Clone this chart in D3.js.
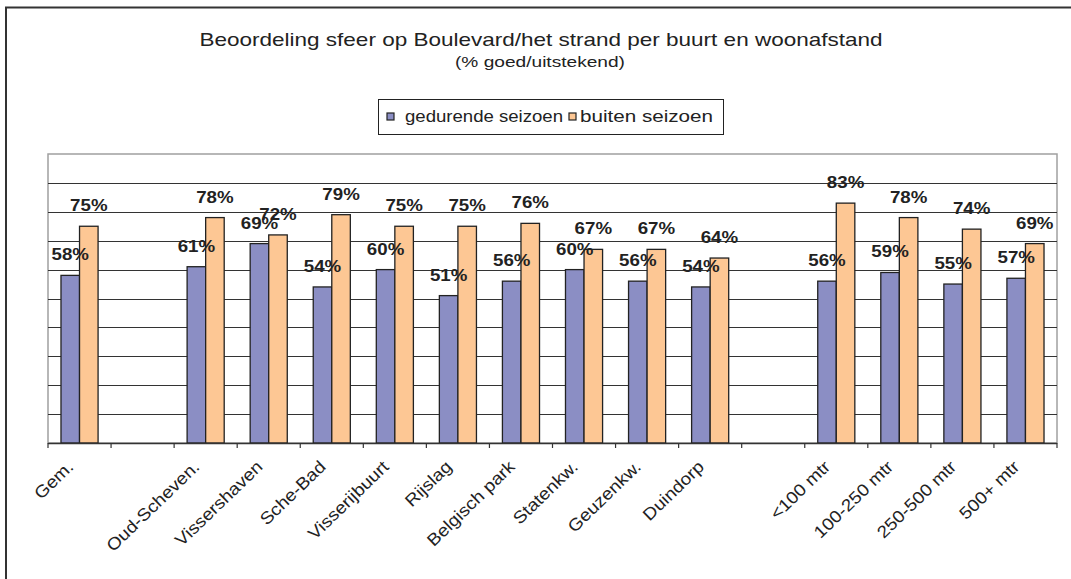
<!DOCTYPE html>
<html>
<head>
<meta charset="utf-8">
<script src="https://d3js.org/d3.v7.min.js"></script>
<style>
html, body { margin: 0; padding: 0; background: #fff; }
svg { display: block; font-family: 'Liberation Sans', Arial, sans-serif; }
</style>
</head>
<body>
<script>
// data
var categories = ["Gem.", "", "Oud-Scheven.", "Vissershaven", "Sche-Bad", "Visserijbuurt", "Rijslag",
  "Belgisch park", "Statenkw.", "Geuzenkw.", "Duindorp", " ", "<100 mtr", "100-250 mtr", "250-500 mtr", "500+ mtr"];
var gedurende = [58, null, 61, 69, 54, 60, 51, 56, 60, 56, 54, null, 56, 59, 55, 57];
var buiten    = [75, null, 78, 72, 79, 75, 75, 76, 67, 67, 64, null, 83, 78, 74, 69];
var seriesNames = ["gedurende seizoen", "buiten seizoen"];
var colors = ["#8B8EC4", "#FDC794"];
var gridTicks = [10, 20, 30, 40, 50, 60, 70, 80, 90];

var W = 1071, H = 579;
var plot = {left: 48, top: 154, right: 1057, bottom: 443};
var SX = 1.1; // slight horizontal stretch of the original

var svg = d3.select("body").append("svg").attr("width", W).attr("height", H);

// outer frame
svg.append("rect").attr("x", 6).attr("y", 7.5).attr("width", 1200).attr("height", 700)
  .attr("fill", "none").attr("stroke", "#333").attr("stroke-width", 2);

var x0 = d3.scaleBand().domain(d3.range(categories.length)).range([plot.left, plot.right]).padding(0);
var groupW = x0.bandwidth() * 2 / 3.4;
var x1 = d3.scaleBand().domain([0, 1]).range([0, groupW]);
var y = d3.scaleLinear().domain([0, 100]).range([plot.bottom, plot.top]);

// plot area border
svg.append("rect").attr("x", plot.left).attr("y", plot.top)
  .attr("width", plot.right - plot.left).attr("height", plot.bottom - plot.top)
  .attr("fill", "none").attr("stroke", "#a0a0a0").attr("stroke-width", 1.5);

// gridlines
svg.append("g").selectAll("line").data(gridTicks).enter().append("line")
  .attr("x1", plot.left).attr("x2", plot.right)
  .attr("y1", function(d) { return Math.round(y(d)) + 0.5; })
  .attr("y2", function(d) { return Math.round(y(d)) + 0.5; })
  .attr("stroke", "#333").attr("stroke-width", 1);

// bars
var rows = categories.map(function(c, i) { return {i: i, vals: [gedurende[i], buiten[i]]}; });
var groups = svg.append("g").selectAll("g").data(rows).enter().append("g")
  .attr("transform", function(d) { return "translate(" + (x0(d.i) + (x0.bandwidth() - groupW) / 2) + ",0)"; });

function pairs(d) {
  return d.vals.map(function(v, k) { return {k: k, v: v}; }).filter(function(e) { return e.v != null; });
}

groups.selectAll("rect").data(pairs)
  .enter().append("rect")
  .attr("x", function(d) { return x1(d.k); })
  .attr("y", function(d) { return y(d.v); })
  .attr("width", x1.bandwidth())
  .attr("height", function(d) { return plot.bottom - y(d.v); })
  .attr("fill", function(d) { return colors[d.k]; })
  .attr("stroke", "#222").attr("stroke-width", 1.3);

groups.selectAll("text").data(pairs)
  .enter().append("text")
  .attr("transform", function(d) { return "translate(" + (x1(d.k) + x1.bandwidth() / 2) + "," + (y(d.v) - 15) + ") scale(" + SX + ",1)"; })
  .attr("text-anchor", "middle")
  .attr("font-size", 17).attr("font-weight", "bold").attr("fill", "#222")
  .text(function(d) { return d.v + "%"; });

// x axis
var xAxis = svg.append("g");
xAxis.append("line").attr("x1", plot.left).attr("x2", plot.right)
  .attr("y1", plot.bottom + 0.5).attr("y2", plot.bottom + 0.5).attr("stroke", "#333").attr("stroke-width", 1.5);
xAxis.selectAll("line.tick").data(d3.range(categories.length + 1)).enter().append("line")
  .attr("class", "tick")
  .attr("x1", function(d) { return plot.left + d * x0.step(); })
  .attr("x2", function(d) { return plot.left + d * x0.step(); })
  .attr("y1", plot.bottom).attr("y2", plot.bottom + 5)
  .attr("stroke", "#333").attr("stroke-width", 1.2);
xAxis.selectAll("text").data(rows.filter(function(d) { return categories[d.i].trim() !== ""; })).enter().append("text")
  .attr("transform", function(d) {
    return "translate(" + (x0(d.i) + x0.bandwidth() / 2 - 5) + "," + (plot.bottom + 25) + ") rotate(-44) scale(1.12,1)";
  })
  .attr("text-anchor", "end")
  .attr("font-size", 17).attr("fill", "#222")
  .text(function(d) { return categories[d.i]; });

// title
svg.append("text").attr("x", 541).attr("y", 46).attr("text-anchor", "middle")
  .attr("font-size", 19).attr("fill", "#222")
  .attr("textLength", 683).attr("lengthAdjust", "spacingAndGlyphs")
  .text("Beoordeling sfeer op Boulevard/het strand per buurt en woonafstand");
svg.append("text").attr("x", 540).attr("y", 67).attr("text-anchor", "middle")
  .attr("font-size", 15).attr("fill", "#222")
  .attr("textLength", 170).attr("lengthAdjust", "spacingAndGlyphs")
  .text("(% goed/uitstekend)");

// legend
var legend = svg.append("g");
legend.append("rect").attr("x", 378.5).attr("y", 99.5).attr("width", 345).attr("height", 35)
  .attr("fill", "#fff").attr("stroke", "#222").attr("stroke-width", 1);
var legX = [387, 569], legTxtX = [405, 580], legLen = [158, 133];
seriesNames.forEach(function(name, k) {
  legend.append("rect").attr("x", legX[k]).attr("y", 113).attr("width", 7).attr("height", 7)
    .attr("fill", colors[k]).attr("stroke", "#222").attr("stroke-width", 1.2);
  legend.append("text").attr("x", legTxtX[k]).attr("y", 122)
    .attr("font-size", 16).attr("fill", "#222")
    .attr("textLength", legLen[k]).attr("lengthAdjust", "spacingAndGlyphs")
    .text(name);
});
</script>
</body>
</html>
